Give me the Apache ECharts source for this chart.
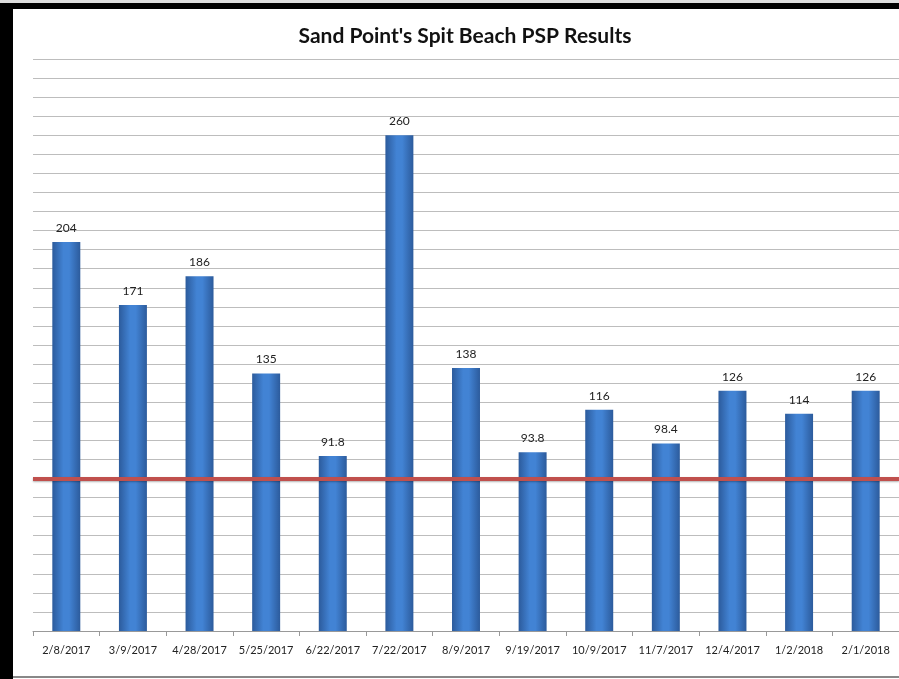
<!DOCTYPE html>
<html>
  <head>
    <meta charset="UTF-8" />
    <title>Sand Point's Spit Beach PSP Results</title>
    <script src="https://cdn.jsdelivr.net/npm/echarts@6.0.0/dist/echarts.min.js"></script>
    <style>
      html, body { margin: 0; padding: 0; background: #fff; }
    </style>
  </head>
  <body>
    <div id="pspChart" style="width: 899px; height: 679px"></div>
    <script>
      // sample dates and PSP results
      const sampleDates = ['2/8/2017', '3/9/2017', '4/28/2017', '5/25/2017', '6/22/2017', '7/22/2017',
        '8/9/2017', '9/19/2017', '10/9/2017', '11/7/2017', '12/4/2017', '1/2/2018', '2/1/2018'];
      const pspValues = [204, 171, 186, 135, 91.8, 260, 138, 93.8, 116, 98.4, 126, 114, 126];
      const limitValue = 80;

      let myChart = echarts.init(document.getElementById('pspChart'));

      const barColor = new echarts.graphic.LinearGradient(0, 0, 1, 0, [
        { offset: 0, color: '#2c5b9c' },
        { offset: 0.4, color: '#4283d4' },
        { offset: 0.6, color: '#4283d4' },
        { offset: 1, color: '#2c5b9c' }
      ]);

      myChart.setOption({
        animation: false,
        title: {
          text: "Sand Point's Spit Beach PSP Results",
          left: 460,
          textAlign: 'center',
          top: 21,
          textStyle: { fontFamily: 'Lato', fontWeight: 'bold', fontSize: 21, color: '#111' }
        },
        graphic: [
          { type: 'rect', shape: { x: 0, y: 0, width: 899, height: 3 }, style: { fill: '#ddd' } },
          { type: 'rect', shape: { x: 0, y: 3, width: 899, height: 6 }, style: { fill: '#000' } },
          { type: 'rect', shape: { x: 0, y: 3, width: 13, height: 676 }, style: { fill: '#000' } },
          { type: 'rect', shape: { x: 13, y: 676, width: 886, height: 2 }, style: { fill: '#888' } }
        ],
        grid: { left: 33, right: 0, top: 59, bottom: 48 },
        xAxis: {
          type: 'category',
          data: sampleDates,
          axisLine: { lineStyle: { color: '#999' } },
          axisTick: { show: true, length: 5, lineStyle: { color: '#999' } },
          axisLabel: { interval: 0, color: '#222', fontFamily: 'Lato', fontSize: 11, margin: 14 }
        },
        yAxis: {
          type: 'value',
          min: 0,
          max: 300,
          interval: 10,
          axisLabel: { show: false },
          axisLine: { show: false },
          axisTick: { show: false },
          splitLine: { lineStyle: { color: '#bdbdbd', width: 1 } }
        },
        series: [
          {
            type: 'bar',
            data: pspValues,
            barWidth: '42%',
            itemStyle: { color: barColor },
            label: {
              show: true,
              position: 'top',
              distance: 8,
              color: '#222',
              fontFamily: 'Lato',
              fontSize: 12
            },
            markLine: {
              silent: true,
              symbol: 'none',
              label: { show: false },
              lineStyle: { color: '#c0504d', width: 4, type: 'solid', shadowColor: 'rgba(0,0,0,0.3)', shadowBlur: 2, shadowOffsetY: 1 },
              data: [{ yAxis: limitValue }]
            }
          }
        ]
      });
    </script>
  </body>
</html>
